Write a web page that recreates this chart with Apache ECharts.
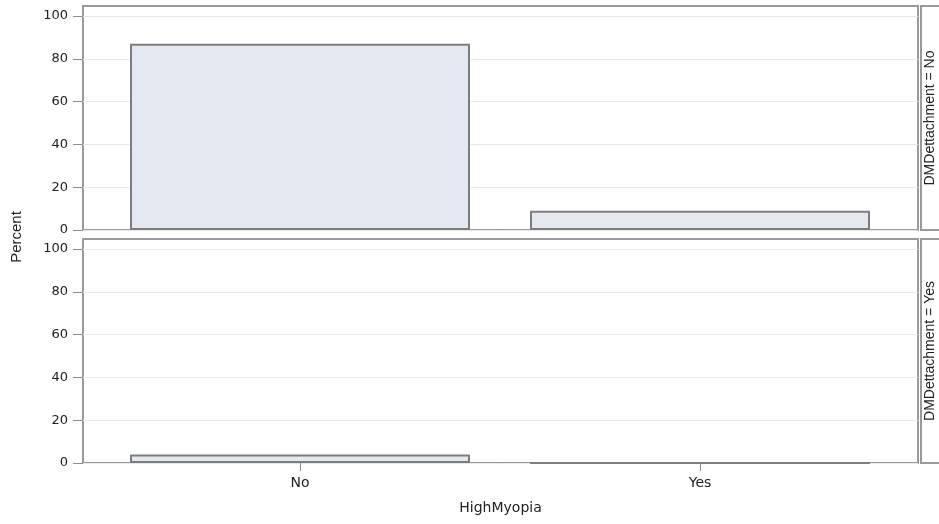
<!DOCTYPE html>
<html>
<head>
<meta charset="utf-8">
<title>HighMyopia by DMDettachment</title>
<script src="https://cdn.jsdelivr.net/npm/echarts@6/dist/echarts.min.js"></script>
<style>
  html, body { margin: 0; padding: 0; background: #ffffff; }
  #chart { width: 939px; height: 524px; }
</style>
</head>
<body>
<div id="chart"></div>
<script>
// HighMyopia categories on the x axis, one panel per DMDettachment level
const categories = ['No', 'Yes'];
const panelLevels = ['No', 'Yes'];

// Percent of all subjects in each cell
const percentDetachNo = [87, 9];
const percentDetachYes = [4, 0];

// Tick labels of the percent axis
const percentTicks = [0, 20, 40, 60, 80, 100];

const frameColor = '#9a9a9a';
const barFill = '#e3e8f1';
const barEdge = '#7d7d7d';
const gridColor = '#e8e8e8';
const textColor = '#222222';

// Panel geometry
const plotLeft = 83, plotRight = 918, panelH = 224;
const panelTops = [6, 239];
const unitPx = 400;                       // pixels per category step
const firstCenter = 300;                  // pixel centre of first category
const xMin = -(firstCenter - plotLeft) / unitPx;
const xMax = (categories.length - 1) + (plotRight - (firstCenter + (categories.length - 1) * unitPx)) / unitPx;
const yMax = 104.67;

function yAxisFor(gridIndex) {
  return {
    type: 'value',
    gridIndex: gridIndex,
    position: 'left',
    min: 0,
    max: yMax,
    interval: 20,
    axisLine: { show: false, onZero: false },
    axisTick: {
      show: true,
      length: 10,
      customValues: percentTicks,
      lineStyle: { color: '#8c8c8c', width: 1 }
    },
    axisLabel: {
      customValues: percentTicks,
      margin: 15,
      color: textColor,
      fontFamily: 'DejaVu Sans',
      fontSize: 13
    },
    splitLine: { show: true, lineStyle: { color: gridColor, width: 1 } }
  };
}

function xAxisFor(gridIndex, showLabels) {
  const ticks = categories.map((c, i) => i);
  return {
    type: 'value',
    gridIndex: gridIndex,
    position: 'bottom',
    min: xMin,
    max: xMax,
    axisLine: { show: false, onZero: false },
    splitLine: { show: false },
    axisTick: {
      show: showLabels,
      length: 8,
      customValues: ticks,
      lineStyle: { color: '#8c8c8c', width: 1 }
    },
    axisLabel: {
      show: showLabels,
      customValues: ticks,
      margin: 13,
      color: textColor,
      fontFamily: 'DejaVu Sans',
      fontSize: 14,
      formatter: v => categories[Math.round(v)]
    },
    name: showLabels ? 'HighMyopia' : '',
    nameLocation: 'middle',
    nameGap: 38,
    nameTextStyle: { color: textColor, fontFamily: 'DejaVu Sans', fontSize: 14 }
  };
}

function barSeries(gridIndex, values) {
  return {
    type: 'bar',
    xAxisIndex: gridIndex,
    yAxisIndex: gridIndex,
    data: values.map((v, i) => [i, v]),
    barWidth: 340,
    itemStyle: { color: barFill, borderColor: barEdge, borderWidth: 2 },
    emphasis: { disabled: true },
    silent: true
  };
}

// Strip boxes with the panel level on the right-hand side
const stripGraphics = [];
panelTops.forEach((top, k) => {
  stripGraphics.push({
    type: 'rect',
    shape: { x: plotRight + 3, y: top, width: 40, height: panelH },
    style: { fill: '#ffffff', stroke: frameColor, lineWidth: 2 },
    z: 1
  });
  stripGraphics.push({
    type: 'text',
    x: plotRight + 12,
    y: top + panelH / 2,
    rotation: Math.PI / 2,
    style: {
      text: 'DMDettachment = ' + panelLevels[k],
      fill: textColor,
      font: '14px "Liberation Sans"',
      textAlign: 'center',
      textVerticalAlign: 'middle'
    },
    z: 2
  });
});

const option = {
  animation: false,
  backgroundColor: '#ffffff',
  grid: panelTops.map(top => ({
    left: plotLeft,
    top: top,
    width: plotRight - plotLeft,
    height: panelH,
    show: true,
    backgroundColor: 'transparent',
    borderColor: frameColor,
    borderWidth: 2
  })),
  xAxis: [xAxisFor(0, false), xAxisFor(1, true)],
  yAxis: [yAxisFor(0), yAxisFor(1)],
  series: [barSeries(0, percentDetachNo), barSeries(1, percentDetachYes)],
  graphic: stripGraphics.concat([{
    type: 'text',
    x: 17,
    y: 237,
    rotation: Math.PI / 2,
    style: {
      text: 'Percent',
      fill: textColor,
      font: '15px "Liberation Sans"',
      textAlign: 'center',
      textVerticalAlign: 'middle'
    }
  }])
};

const chart = echarts.init(document.getElementById('chart'), null, { renderer: 'canvas' });
chart.setOption(option);
</script>
</body>
</html>
